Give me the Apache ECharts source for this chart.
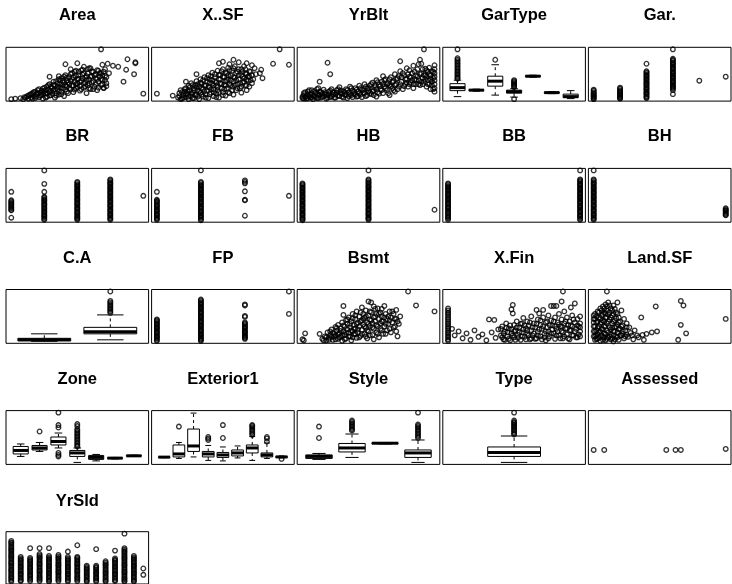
<!DOCTYPE html>
<html>
<head>
<meta charset="utf-8">
<title>price vs predictors</title>
<script src="https://cdn.jsdelivr.net/npm/echarts@6/dist/echarts.min.js"></script>
<style>
  html, body { margin: 0; padding: 0; background: #fff; }
  #main { width: 732px; height: 584px; }
</style>
</head>
<body>
<div id="main"></div>
<script>
// y of every panel is the sale price, rescaled 0..100 (lowest .. highest sale)

const titles = ['Area', 'X..SF', 'YrBlt', 'GarType', 'Gar.',
  'BR', 'FB', 'HB', 'BB', 'BH',
  'C.A', 'FP', 'Bsmt', 'X.Fin', 'Land.SF',
  'Zone', 'Exterior1', 'Style', 'Type', 'Assessed',
  'YrSld'];

// continuous predictors, [x, price], x rescaled 0..100
const areaPts = [[0,0],[3,1],[7,2],[9,0],[10,4],[12,6],[13,1],[14,9],[15,3],[16,12],[17,6],[18,15],[18,2],[19,10],[20,18],[21,4],[22,13],[23,8],[24,21],[24,1],[25,16],[26,11],[27,25],[27,5],[28,19],[29,14],[29,30],[30,8],[31,22],[32,17],[32,35],[33,3],[33,27],[34,12],[35,31],[35,20],[36,9],[37,38],[37,24],[38,15],[38,42],[39,28],[40,6],[40,33],[41,19],[41,48],[42,37],[42,25],[43,12],[44,44],[44,30],[45,20],[46,40],[46,52],[47,27],[47,14],[48,35],[49,46],[49,22],[50,31],[51,55],[51,41],[52,17],[52,27],[53,37],[54,49],[54,59],[55,23],[56,43],[56,33],[57,12],[58,52],[58,28],[59,39],[60,62],[60,20],[61,46],[61,33],[62,55],[63,25],[64,42],[64,50],[65,18],[66,35],[66,57],[67,45],[68,28],[68,52],[69,39],[70,22],[71,47],[72,32],
  [11,3],[13,7],[15,10],[16,1],[17,14],[19,5],[20,12],[21,20],[22,7],[23,17],[24,12],[25,23],[26,3],[26,18],[27,12],[28,28],[29,7],[30,17],[30,25],[31,11],[32,29],[33,20],[34,7],[34,36],[35,25],[36,15],[36,40],[37,30],[38,10],[39,22],[39,37],[40,45],[41,28],[42,15],[42,43],[43,33],[44,22],[45,50],[45,36],[46,27],[47,44],[48,19],[48,55],[49,30],[50,40],[50,24],[51,48],[52,34],[53,58],[53,20],[54,42],[55,31],[55,52],[56,26],[57,46],[57,38],[58,60],[59,32],[59,22],[60,45],[61,55],[62,36],[62,20],[63,48],[64,30],[65,58],[65,40],[66,23],[67,52],[68,40],[69,30],[69,48],[70,55],[71,38],[72,26],[72,44],
  [41,70],[50,72],[59,62],[49,57],[45,60],[55,65],[36,46],[29,45],
  [68,100],[100,11],[94,74],[94,72],[88,80],[93,50],[85,35],[87,59],[81,65],[77,67],[73,71],[69,69],[71,60],[74,52],[70,23]];

const xsfPts = [[0,11],[12,7],[16,3],[17,12],[18,18],[19,1],[20,8],[21,15],[22,4],[22,22],[23,11],[24,0],[24,27],[25,17],[26,6],[26,32],[27,13],[28,22],[28,2],[29,28],[30,9],[30,36],[31,18],[32,0],[32,25],[33,40],[33,13],[34,31],[35,5],[35,20],[36,44],[36,27],[37,10],[38,35],[38,17],[39,48],[39,2],[40,24],[40,40],[41,13],[42,31],[42,53],[43,6],[43,20],[44,44],[44,36],[45,27],[45,11],[46,57],[46,18],[47,40],[47,3],[48,32],[48,49],[49,22],[50,60],[50,14],[51,44],[51,29],[52,36],[52,7],[53,52],[53,21],[54,63],[54,40],[55,30],[55,12],[56,47],[57,25],[57,57],[58,35],[58,9],[59,66],[59,43],[60,18],[60,52],[61,30],[62,60],[62,40],[63,22],[64,48],[64,13],[65,56],[65,33],[66,42],[67,27],[67,60],[68,50],[68,18],[69,37],[70,45],[70,25],[71,55],[72,32],[73,40],
  [17,6],[18,0],[19,14],[20,3],[21,20],[22,10],[23,16],[24,5],[25,24],[26,12],[27,28],[27,2],[28,17],[29,8],[30,24],[31,30],[31,5],[32,15],[33,33],[34,22],[34,9],[35,38],[36,16],[37,28],[37,3],[38,42],[39,24],[40,10],[40,33],[41,46],[41,20],[42,38],[43,27],[43,14],[44,50],[45,33],[45,4],[46,24],[47,48],[47,14],[48,40],[49,56],[49,30],[50,8],[50,45],[51,20],[52,53],[52,27],[53,38],[54,14],[54,48],[55,58],[56,28],[56,38],[57,18],[58,62],[58,44],[59,28],[60,38],[61,55],[61,22],[62,48],[63,32],[64,60],[64,25],[65,45],[66,35],[67,52],[68,28],[69,45],[70,56],[71,38],[72,48],
  [30,50],[22,35],[47,72],[50,75],[58,79],[55,70],[62,74],[68,72],[66,66],[72,68],[88,71],[80,42],[78,52],[79,59],[93,100],[100,69],[68,39],[75,50],[74,62]];

const yrbltPts = [[0,2],[1,8],[2,4],[2,14],[3,1],[4,10],[5,6],[5,18],[6,3],[7,12],[8,0],[8,7],[9,16],[10,4],[11,11],[12,22],[12,2],[13,35],[13,8],[14,14],[15,5],[16,19],[17,10],[18,1],[19,73],[19,7],[20,15],[21,50],[21,4],[22,20],[23,9],[24,13],[25,3],[26,18],[27,7],[28,24],[29,12],[30,5],[31,16],[32,9],[33,20],[34,2],[35,13],[36,25],[37,8],[38,17],[39,11],[40,22],[41,5],[42,15],[43,27],[44,9],[45,19],[46,13],[47,30],[48,6],[49,21],[50,16],[51,27],[52,10],[53,33],[54,18],[55,24],[56,5],[56,38],[57,14],[58,29],[59,20],[60,35],[61,46],[61,12],[62,25],[63,40],[64,18],[65,32],[66,28],[66,8],[67,44],[68,22],[69,36],[70,50],[70,15],[71,30],[72,42],[73,25],[74,56],[74,76],[75,35],[76,20],[77,48],[78,30],[79,62],[79,40],[80,25],[81,58],[81,45],[82,33],[83,52],[84,22],[84,67],[85,40],[86,48],[86,30],[87,60],[88,38],[88,70],[89,79],[89,28],[90,52],[90,71],[91,42],[92,100],[92,35],[93,61],[93,48],[94,45],[94,25],[95,55],[95,38],[96,30],[96,63],[97,47],[97,20],[98,56],[98,35],[99,42],[100,68],[100,60],[100,52],[100,45],[100,38],[100,30],[100,22],[100,15],
  [0,5],[1,1],[1,12],[3,6],[4,2],[4,15],[6,9],[7,3],[7,18],[9,6],[10,13],[11,2],[11,20],[12,9],[13,15],[14,3],[15,11],[16,6],[17,14],[18,9],[19,3],[20,10],[21,17],[22,6],[23,14],[24,3],[25,9],[26,13],[27,20],[28,6],[29,17],[30,11],[31,3],[32,14],[33,8],[34,18],[35,6],[36,10],[37,22],[38,4],[39,15],[40,9],[41,19],[42,6],[43,12],[44,22],[45,4],[46,18],[47,12],[48,25],[49,8],[50,22],[51,12],[52,30],[53,15],[54,8],[55,28],[56,20],[57,34],[58,11],[59,26],[60,18],[61,30],[62,38],[63,22],[64,30],[65,12],[66,40],[67,26],[68,34],[69,18],[70,28],[71,40],[72,20],[73,46],[74,30],[75,44],[76,52],[77,26],[78,40],[79,33],[80,50],[81,30],[82,44],[83,38],[84,30],[85,55],[86,38],[87,45],[88,30],[89,50],[90,35],[91,60],[91,30],[92,48],[93,40],[94,58],[95,30],[96,50],[97,40],[98,28],[99,55],[99,20]];

const bsmtPts = [[0,4],[1,2],[2,16],[13,15],[15,5],[17,10],[18,2],[19,18],[20,7],[21,13],[22,24],[23,3],[23,17],[24,9],[25,29],[25,12],[26,21],[27,5],[27,33],[28,16],[29,26],[29,9],[30,38],[30,1],[31,20],[31,71],[31,53],[32,13],[32,30],[33,43],[33,6],[34,24],[34,35],[35,17],[35,48],[36,10],[36,28],[37,40],[37,2],[38,20],[38,55],[39,33],[39,14],[40,45],[40,26],[41,7],[41,60],[42,37],[42,18],[43,50],[43,30],[44,11],[45,68],[45,42],[45,23],[46,55],[46,34],[47,15],[47,47],[48,27],[48,62],[49,38],[49,6],[50,80],[50,52],[50,20],[51,44],[51,31],[52,78],[52,58],[53,13],[53,36],[54,48],[54,25],[55,65],[55,40],[56,18],[56,55],[57,66],[57,30],[58,45],[58,8],[59,36],[59,58],[60,22],[60,50],[61,40],[62,71],[62,30],[63,15],[63,55],[64,45],[65,35],[66,60],[66,25],[67,48],[68,38],[69,55],[70,30],[71,63],[71,45],[72,10],[72,40],[74,50],[80,100],[86,72],[100,60],
  [16,2],[18,8],[20,3],[21,20],[22,9],[24,15],[25,4],[26,27],[27,15],[28,8],[29,21],[30,12],[31,32],[32,4],[33,18],[34,44],[35,10],[36,35],[37,22],[38,8],[38,46],[39,25],[40,15],[40,52],[41,35],[42,24],[43,8],[44,40],[44,58],[45,15],[46,45],[47,30],[48,10],[48,50],[49,22],[50,35],[51,60],[51,12],[52,42],[53,28],[54,70],[54,4],[55,50],[56,33],[57,15],[58,55],[59,25],[60,40],[60,65],[61,15],[62,48],[63,35],[64,22],[65,50],[66,42],[67,18],[68,60],[69,28],[70,45],[71,20],[73,35]];

const xfinPts = [[0,66],[0,62],[0,58],[0,55],[0,51],[0,47],[0,44],[0,40],[0,36],[0,33],[0,29],[0,26],[0,22],[0,18],[0,15],[0,11],[0,8],[0,4],[0,1],
  [3,25],[5,12],[8,20],[11,6],[14,16],[17,3],[20,22],[23,9],[26,14],[29,2],[31,44],[33,18],[35,43],[36,7],[38,24],
  [40,12],[41,30],[42,4],[43,20],[44,36],[45,10],[46,26],[47,2],[48,64],[48,16],[49,73],[49,56],[50,33],[50,8],[51,22],[52,40],[53,13],[54,28],[55,3],[56,36],[56,18],[57,47],[58,9],[59,26],[60,40],[60,15],[61,32],[62,4],[63,22],[63,50],[64,12],[65,36],[66,28],[67,63],[67,6],[68,44],[68,19],[69,56],[70,33],[70,10],[71,25],[72,63],[72,48],[73,15],[74,38],[74,2],[75,28],[76,52],[76,20],[77,10],[78,71],[78,42],[79,32],[80,71],[80,16],[81,48],[81,5],[82,71],[82,25],[83,38],[84,12],[84,55],[85,30],[86,80],[86,44],[86,20],[87,100],[87,6],[88,36],[88,60],[89,25],[90,48],[90,14],[91,33],[92,40],[92,4],[93,68],[93,22],[94,52],[94,30],[95,12],[96,76],[96,38],[97,25],[98,45],[98,8],[99,30],[100,50],[100,36],[100,20],[100,10],
  [40,25],[41,8],[42,16],[43,3],[44,27],[45,18],[46,5],[47,32],[48,24],[49,12],[50,20],[51,3],[52,28],[53,7],[54,18],[55,35],[56,10],[57,24],[58,32],[59,4],[60,22],[61,12],[62,38],[63,6],[64,28],[65,16],[66,5],[67,35],[68,12],[69,24],[70,42],[71,4],[72,30],[73,8],[74,20],[75,40],[76,6],[77,32],[78,16],[79,24],[80,40],[81,30],[82,12],[83,20],[84,34],[85,6],[86,30],[87,18],[88,10],[89,40],[90,26],[91,6],[92,22],[93,32],[94,12],[95,44],[96,20],[97,8],[98,32],[99,14],[100,28]];

const landPts = [[10,100],[66,81],[68,72],[47,70],[36,48],[66,33],[100,45],[48,20],[44,18],[40,15],[37,13],[33,12],[29,12],[25,13],[22,15],[70,16],[64,3],
  [0,10],[0,30],[0,45],[1,3],[1,20],[1,55],[2,38],[2,12],[3,60],[3,27],[3,5],[4,48],[4,18],[5,35],[5,66],[5,1],[6,25],[6,52],[7,9],[7,42],[7,70],[8,30],[8,58],[8,16],[9,2],[9,74],[9,47],[10,22],[10,36],[10,62],[11,8],[11,54],[11,78],[12,28],[12,44],[13,14],[13,66],[13,4],[14,36],[14,52],[15,20],[15,72],[15,0],[16,42],[16,28],[17,10],[17,58],[18,34],[18,78],[18,18],[19,48],[19,3],[20,25],[20,40],[21,12],[21,62],[22,32],[23,6],[23,45],[24,22],[25,36],[26,9],[27,28],[28,17],[30,4],[31,22],[34,8],[38,3],
  [0,20],[0,38],[0,52],[1,10],[1,30],[1,45],[2,5],[2,22],[2,50],[3,15],[3,40],[4,8],[4,30],[4,58],[5,20],[5,45],[6,12],[6,38],[6,62],[7,3],[7,24],[7,55],[8,8],[8,40],[8,66],[9,14],[9,30],[9,56],[10,5],[10,48],[10,70],[11,18],[11,40],[12,10],[12,58],[12,72],[13,24],[13,48],[14,6],[14,28],[14,62],[15,12],[15,40],[15,55],[16,4],[16,20],[16,65],[17,30],[17,46],[18,8],[18,55],[19,24],[19,38],[20,12],[21,30],[22,20],[24,10],[25,28]];

const assessedPts = [[0,25],[8,25],[55,25],[62,25],[66,25],[100,27]];

// discrete predictors: list of prices for each level 0, 1, 2 ...
const garCols = [
  [19,17,14,12,10,8,6,5,3,1,0],
  [23,21,18,16,14,12,10,8,6,4,2,1],
  [71,56,54,52,49,47,45,42,40,38,35,33,31,29,27,24,22,20,18,15,13,11,9,6,4,2],
  [100,81,79,77,74,72,70,68,65,63,61,59,56,54,52,50,47,45,43,41,38,36,34,32,29,27,25,23,21,18,10],
  [37],
  [45]];
const brCols = [
  [57,40,38,35,33,31,28,26,24,21,20,5],
  [100,73,57,47,45,42,40,38,35,33,31,29,26,24,22,19,17,15,12,10,8,6,3,1],
  [77,75,72,70,68,66,63,61,59,57,54,52,50,48,45,43,41,39,36,34,32,30,27,25,23,21,18,16,14,12,9,7,5,3,1],
  [82,80,77,75,73,71,68,66,64,62,59,57,55,53,50,48,46,44,41,39,37,35,32,30,28,26,23,21,19,17,14,12,10,8,5,3,1],
  [49]];
const fbCols = [
  [57,41,39,37,35,32,30,28,26,23,21,19,17,14,12,10,8,5,3,1],
  [100,77,75,72,70,68,65,63,61,59,56,54,52,50,47,45,43,41,38,36,34,32,29,27,25,23,20,18,16,14,11,9,7,5,2,0],
  [80,77,74,58,41,40,9],
  [49]];
const hbCols = [
  [74,72,70,67,65,63,60,58,56,54,51,49,47,45,42,40,38,36,33,31,29,27,24,22,20,18,15,13,11,9,6,4,2,0],
  [100,82,80,77,75,73,70,68,66,64,61,59,57,55,52,50,48,46,43,41,39,37,34,32,30,28,25,23,21,19,16,14,12,10,7,5,3,1],
  [21]];
const bbCols = [
  [74,72,69,67,65,62,60,58,55,53,51,49,46,44,42,40,37,35,33,31,28,26,24,22,19,17,15,13,10,8,6,4,1],
  [100,82,80,78,75,73,71,69,66,64,62,60,57,55,53,51,48,46,44,42,39,37,35,33,30,28,26,24,21,19,17,15,12,10,8,6,3,1]];
const bhCols = [
  [100,82,80,77,75,73,71,68,66,64,62,59,57,55,53,50,48,46,44,41,39,37,35,32,30,28,26,23,21,19,17,14,12,10,8,5,3,1],
  [24,22,20,19,17,15,13,11,10]];
const fpCols = [
  [44,42,40,37,35,33,30,28,26,24,21,19,17,15,12,10,8,6,3,1],
  [84,82,79,77,75,73,70,68,66,64,61,59,57,55,52,50,48,46,43,41,39,37,34,32,30,28,25,23,21,19,16,14,12,10,7,5,3,1],
  [74,72,51,49,38,36,34,31,29,27,25,22,20,18,16,13,11,9,7,5],
  [100,55]];
const yrsldCols = [
  [85,82,80,77,74,71,68,66,63,60,57,54,52,49,46,43,40,38,35,32,29,26,24,21,18,15,12,10,7,4,1],
  [52,49,46,44,41,38,35,32,30,27,24,21,18,16,13,10,7,4,2],
  [70,50,47,44,42,39,36,33,30,28,25,22,19,16,14,11,8,5,2],
  [70,58,55,52,50,47,44,41,38,36,33,30,27,24,22,19,16,13,10,8,5,2],
  [70,54,51,48,46,43,40,37,34,32,29,26,23,20,18,15,12,9,6,3,1],
  [56,53,50,48,45,42,39,36,34,31,28,25,22,20,17,14,11,8,5,2],
  [63,52,49,46,44,41,38,35,32,30,27,24,21,18,16,13,10,7,4,1],
  [76,52,50,47,44,41,38,36,33,30,27,24,22,19,16,13,10,8,5,2],
  [34,31,28,26,23,20,17,14,12,9,6,3,1],
  [68,34,31,29,26,23,20,18,15,12,9,7,4,1],
  [43,40,37,35,32,29,26,23,20,18,15,12,9,6,3,1],
  [65,49,46,44,41,38,35,32,30,27,24,21,18,16,13,10,7,4,2],
  [100,70,67,64,62,59,56,53,50,48,45,42,39,36,34,31,28,25,22,20,17,14,11,8,6,3,1],
  [54,51,48,46,43,40,37,34,32,29,26,23,20,18,15,12,9,6,3,1],
  [28,15]];

// factors: [low whisker, q1, median, q3, high whisker] per level, outliers as [level, price]
const garTypeBox = [[5,17,23,31,38],[16,17,18,19,20],[8,26,36,46,69],[4,12,15,18,21],[44,45,46,47,48],[11,12,13,14,15],[1,3,5,10,17]];
const garTypeOut = [[1,100],[1,82],[1,79],[1,76],[1,73],[1,70],[1,67],[1,64],[1,61],[1,58],[1,55],[1,52],[1,49],[1,46],[1,43],[1,41],
  [3,79],[4,38],[4,36],[4,34],[4,32],[4,30],[4,28],[4,26],[4,24],[4,0]];
const caBox = [[0,1,3,6,15],[3,15,19,28,53]];
const caOut = [[2,100],[2,81],[2,78],[2,75],[2,72],[2,69],[2,66],[2,63],[2,60],[2,57]];
const zoneBox = [[12,17,24,32,37],[22,25,29,34,40],[29,35,42,51,59],[0,12,19,24,29],[3,6,10,14,16],[7,8,8.6,9.5,10],[12,12.5,13.2,14,14.5]];
const zoneOut = [[2,62],[3,100],[3,75],[3,70],[3,19],[3,15],[3,12],
  [4,77],[4,73],[4,67],[4,64],[4,61],[4,58],[4,55],[4,52],[4,49],[4,46],[4,43],[4,40],[4,37],[4,34],[4,32]];
const extBox = [[9.5,10,10.6,11,11.5],[8,11,17,35,40],[11,22,33,67,99],[4,11,17,22,34],[3,10,15,20,31],[9,13,19,25,33],[4,19,29,35,52],[8,11,15,19,39],[9,10,11,12,13]];
const extOut = [[2,72],[4,51],[4,48],[4,45],[5,49],[5,75],[7,75],[7,73],[7,70],[7,67],[7,64],[7,61],[7,58],[7,55],[8,51],[8,48],[8,42],[9,7]];
const styleBox = [[6,8,12,15,18],[10,21,29,38,57],[37,38,38.5,39,40],[0,10,19,25,45]];
const styleOut = [[1,72],[1,49],[2,84],[2,81],[2,78],[2,75],[2,72],[2,69],[2,66],[2,64],
  [4,100],[4,76],[4,73],[4,70],[4,67],[4,64],[4,61],[4,58],[4,55],[4,52],[4,49]];
const typeBox = [[0,12,20,31,53]];
const typeOut = [[1,100],[1,84],[1,81],[1,79],[1,76],[1,74],[1,71],[1,69],[1,66],[1,64],[1,61],[1,58],[1,56]];

function colsToPts(cols) {
  const pts = [];
  cols.forEach((ys, x) => ys.forEach(y => pts.push([x, y])));
  return pts;
}

// one entry per panel, in drawing order (row by row)
const panels = [
  { pts: areaPts, lo: 0, hi: 100 },
  { pts: xsfPts, lo: 0, hi: 100 },
  { pts: yrbltPts, lo: 0, hi: 100 },
  { box: garTypeBox, out: garTypeOut },
  { pts: colsToPts(garCols), lo: 0, hi: 5 },
  { pts: colsToPts(brCols), lo: 0, hi: 4 },
  { pts: colsToPts(fbCols), lo: 0, hi: 3 },
  { pts: colsToPts(hbCols), lo: 0, hi: 2 },
  { pts: colsToPts(bbCols), lo: 0, hi: 1 },
  { pts: colsToPts(bhCols), lo: 0, hi: 1 },
  { box: caBox, out: caOut },
  { pts: colsToPts(fpCols), lo: 0, hi: 3 },
  { pts: bsmtPts, lo: 0, hi: 100 },
  { pts: xfinPts, lo: 0, hi: 100 },
  { pts: landPts, lo: 0, hi: 100 },
  { box: zoneBox, out: zoneOut },
  { box: extBox, out: extOut },
  { box: styleBox, out: styleOut },
  { box: typeBox, out: typeOut },
  { pts: assessedPts, lo: 0, hi: 100 },
  { pts: colsToPts(yrsldCols), lo: 0, hi: 14 }
];

// open circles like R's pch 1
const circleStyle = { color: 'rgba(0,0,0,0)', borderColor: '#000', borderWidth: 1.3 };

// box, thick median, dashed whiskers with half-width staples
function renderBox(params, api) {
  const x = api.value(0);
  const lo = api.coord([x, api.value(1)]);
  const q1 = api.coord([x, api.value(2)]);
  const md = api.coord([x, api.value(3)]);
  const q3 = api.coord([x, api.value(4)]);
  const hi = api.coord([x, api.value(5)]);
  const w = api.size([0.8, 0])[0];
  const cx = lo[0];
  const seg = (x1, y1, x2, y2, extra) => ({
    type: 'line', shape: { x1, y1, x2, y2 },
    style: Object.assign({ stroke: '#000', lineWidth: 1 }, extra)
  });
  return {
    type: 'group',
    children: [
      seg(cx, q3[1], cx, hi[1], { lineDash: [3, 3] }),
      seg(cx, q1[1], cx, lo[1], { lineDash: [3, 3] }),
      seg(cx - w / 4, hi[1], cx + w / 4, hi[1]),
      seg(cx - w / 4, lo[1], cx + w / 4, lo[1]),
      { type: 'rect', shape: { x: cx - w / 2, y: q3[1], width: w, height: q1[1] - q3[1] },
        style: { fill: '#fff', stroke: '#000', lineWidth: 1 } },
      seg(cx - w / 2, md[1], cx + w / 2, md[1], { lineWidth: 3 })
    ]
  };
}

const grid = [], xAxis = [], yAxis = [], series = [], graphic = [];
panels.forEach((p, i) => {
  const r = Math.floor(i / 5), c = i % 5;
  const left = 6 + c * 145.6, top = 47.3 + r * 121.1;
  grid.push({ left: left, top: top, width: 142.6, height: 53.8, show: true, borderColor: '#000', borderWidth: 1 });

  let lo = p.lo, hi = p.hi;
  if (p.box) {
    lo = 0.5; hi = p.box.length + 0.5;
    if (p.box.length === 1) { lo = 0; hi = 2; }
  }
  const pad = 0.04 * (hi - lo);
  xAxis.push({ type: 'value', gridIndex: i, min: lo - pad, max: hi + pad, show: false });
  yAxis.push({ type: 'value', gridIndex: i, min: -4, max: 104, show: false });

  if (p.box) {
    series.push({
      type: 'custom', xAxisIndex: i, yAxisIndex: i, silent: true,
      data: p.box.map((b, k) => [k + 1].concat(b)),
      encode: { x: 0, y: [1, 2, 3, 4, 5] },
      renderItem: renderBox
    });
  }
  series.push({
    type: 'scatter', xAxisIndex: i, yAxisIndex: i, silent: true,
    data: p.box ? p.out : p.pts,
    symbol: 'circle', symbolSize: 4.6, itemStyle: circleStyle
  });

  graphic.push({
    type: 'text', x: left + 71.3, y: 15 + r * 121.5, silent: true,
    style: {
      text: titles[i], fill: '#000', textAlign: 'center', textVerticalAlign: 'middle',
      font: 'bold 16.5px "Liberation Sans", Arial, sans-serif'
    }
  });
});

const chart = echarts.init(document.getElementById('main'));
chart.setOption({
  animation: false,
  backgroundColor: '#fff',
  grid: grid,
  xAxis: xAxis,
  yAxis: yAxis,
  series: series,
  graphic: graphic
});
</script>
</body>
</html>
